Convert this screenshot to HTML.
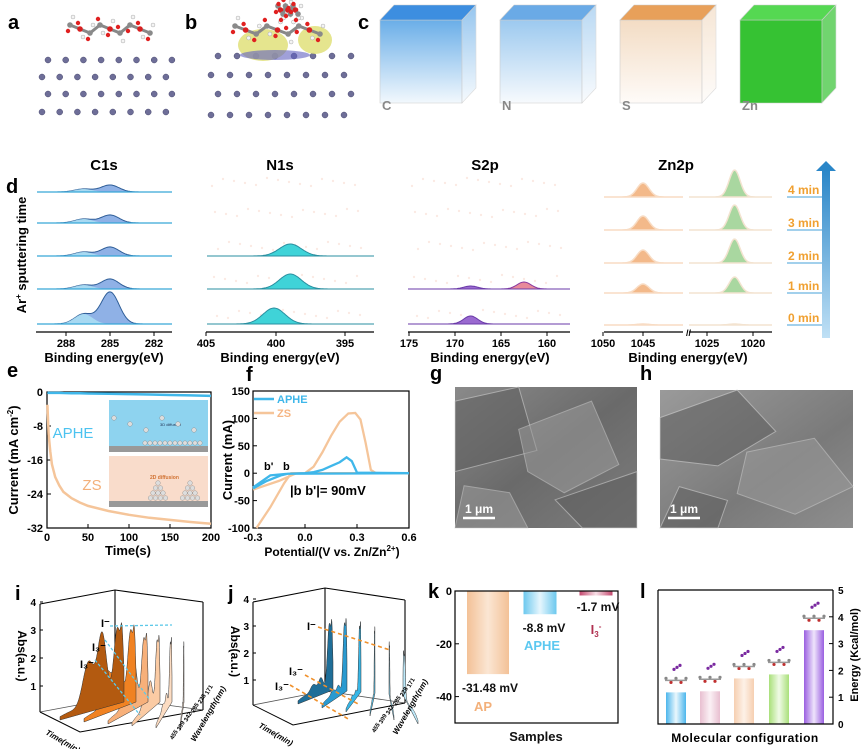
<!DOCTYPE html>
<html><head><meta charset="utf-8">
<style>
body{margin:0;background:#fff;}
svg{display:block;font-family:"Liberation Sans",Arial,sans-serif;font-weight:bold;}
</style></head>
<body>
<svg id="fig" width="863" height="749" viewBox="0 0 863 749" xmlns="http://www.w3.org/2000/svg">
<defs>
<linearGradient id="gBlue" x1="0" x2="1"><stop offset="0" stop-color="#6cc8ee"/><stop offset="0.5" stop-color="#e6f6fd"/><stop offset="1" stop-color="#6cc8ee"/></linearGradient>
<linearGradient id="gOr" x1="0" x2="1"><stop offset="0" stop-color="#f3c197"/><stop offset="0.5" stop-color="#fbe6d3"/><stop offset="1" stop-color="#f3c197"/></linearGradient>
<linearGradient id="gRed" x1="0" x2="1"><stop offset="0" stop-color="#c4486e"/><stop offset="0.5" stop-color="#f7e0e7"/><stop offset="1" stop-color="#c4486e"/></linearGradient>
<linearGradient id="gL0" x1="0" x2="1"><stop offset="0" stop-color="#4cb6ec"/><stop offset="0.5" stop-color="#eaf7fd"/><stop offset="1" stop-color="#4cb6ec"/></linearGradient>
<linearGradient id="gL1" x1="0" x2="1"><stop offset="0" stop-color="#e8bfd0"/><stop offset="0.5" stop-color="#fbf1f5"/><stop offset="1" stop-color="#e8bfd0"/></linearGradient>
<linearGradient id="gL2" x1="0" x2="1"><stop offset="0" stop-color="#f6cfb1"/><stop offset="0.5" stop-color="#fdf1e7"/><stop offset="1" stop-color="#f6cfb1"/></linearGradient>
<linearGradient id="gL3" x1="0" x2="1"><stop offset="0" stop-color="#a9e07a"/><stop offset="0.5" stop-color="#f0fae6"/><stop offset="1" stop-color="#a9e07a"/></linearGradient>
<linearGradient id="gL4" x1="0" x2="1"><stop offset="0" stop-color="#9a5fe0"/><stop offset="0.5" stop-color="#eee4fb"/><stop offset="1" stop-color="#9a5fe0"/></linearGradient>
<linearGradient id="gArrow" x1="0" y1="1" x2="0" y2="0"><stop offset="0" stop-color="#bfe0f5"/><stop offset="1" stop-color="#2a86c8"/></linearGradient>
<linearGradient id="cubeC" x1="0" y1="0" x2="0" y2="1"><stop offset="0" stop-color="#6aaee8"/><stop offset="1" stop-color="#f2f8fd"/></linearGradient>
<linearGradient id="cubeN" x1="0" y1="0" x2="0" y2="1"><stop offset="0" stop-color="#9cc9ef"/><stop offset="1" stop-color="#f7fafd"/></linearGradient>
<linearGradient id="cubeS" x1="0" y1="0" x2="0" y2="1"><stop offset="0" stop-color="#f3dcc4"/><stop offset="1" stop-color="#fefbf8"/></linearGradient>
<linearGradient id="semG" x1="0" y1="0" x2="1" y2="1"><stop offset="0" stop-color="#8a8a8a"/><stop offset="0.5" stop-color="#6a6a6a"/><stop offset="1" stop-color="#7d7d7d"/></linearGradient>
<linearGradient id="semH" x1="0" y1="0" x2="1" y2="1"><stop offset="0" stop-color="#9a9a9a"/><stop offset="0.6" stop-color="#7a7a7a"/><stop offset="1" stop-color="#8e8e8e"/></linearGradient>
</defs>

<g font-size="20" fill="#000">
<text x="8" y="29">a</text>
<text x="185" y="29">b</text>
<text x="358" y="29">c</text>
<text x="6" y="193">d</text>
<text x="7" y="377">e</text>
<text x="246" y="381">f</text>
<text x="430" y="380">g</text>
<text x="640" y="380">h</text>
<text x="15" y="600">i</text>
<text x="228" y="600">j</text>
<text x="428" y="598">k</text>
<text x="640" y="598">l</text>
</g>

<g id="panelAB"></g>
<g id="panelC"></g>
<g id="panelD"></g>
<g id="panelE"></g>
<g id="panelF"></g>
<g id="panelGH"></g>
<g id="panelI"></g>
<g id="panelJ"></g>
<g id="panelK"></g>
<g id="panelL"></g>
</svg>

<script>
// ---------- DATA ----------
const eTime = [0.5,2,4,6,10,15,20,30,40,50,75,100,125,150,175,200];
const eZS   = [-3,-10,-14,-17,-20,-22,-23.5,-25,-26,-26.8,-28,-28.9,-29.6,-30.1,-30.6,-31];
const eAPHE = [-0.1,-0.2,-0.2,-0.2,-0.2,-0.2,-0.25,-0.3,-0.3,-0.35,-0.4,-0.5,-0.6,-0.7,-0.8,-0.9];
const eYTicks = [0,-8,-16,-24,-32];
const eXTicks = [0,50,100,150,200];
const fZSV = [-0.28,-0.2,-0.12,-0.08,0.0,0.05,0.1,0.15,0.2,0.25,0.29,0.32,0.35,0.38,0.41,0.6,0.6,-0.05,-0.15,-0.3];
const fZSI = [-100,-62,-18,0,0,12,38,68,94,109,110,98,55,6,0,0,0,0,-14,-30];
const fAPV = [-0.3,-0.22,-0.14,-0.1,0.0,0.05,0.1,0.15,0.2,0.24,0.27,0.3,0.6,0.6,-0.1,-0.2,-0.3];
const fAPI = [-28,-14,-4,-1,0,2,6,13,20,29,22,1,0,0,-1,-4,-26];
const fYTicks = [150,100,50,0,-50,-100];
const fXTicks = [-0.3,0.0,0.3,0.6];
const kSamples = ["AP","APHE","I3-"];
const kValues = [-31.48,-8.8,-1.7];
const kYTicks = [0,-20,-40];
const lConfigs = ["c1","c2","c3","c4","c5"];
const lEnergy = [1.18,1.22,1.7,1.85,3.5];
const lYTicks = [0,1,2,3,4,5];
const dC1sMain = [7,8,9,10,32];
const dC1sShoulder = [3,4,4,4,10];
const dN1s = [0,0,12,15,16];
const dS2pA = [0,0,0,3,8];
const dS2pB = [0,0,0,7,0];
const dZnA = [14,14,13,9,1];
const dZnB = [27,25,24,16,1];
const dRowLabels = ["4 min","3 min","2 min","1 min","0 min"];
const iIpeak = [3.9,3.8,3.4,3.3,3.2,3.0];
const iI3a = [1.7,1.4,0.9,0.6,0.35,0.15];
const iI3b = [2.6,2.2,1.6,1.0,0.6,0.3];
const jIpeak = [3.6,3.7,3.6,3.4,2.7,2.3];
const jI3a = [0.4,0.3,0.2,0.15,0.1,0.05];
const jI3b = [0.6,0.4,0.3,0.2,0.1,0.05];

const NS="http://www.w3.org/2000/svg";
function mk(parent,tag,attrs,text){const e=document.createElementNS(NS,tag);for(const k in attrs)e.setAttribute(k,attrs[k]);if(text!==undefined)e.textContent=text;parent.appendChild(e);return e;}
function g(x,m,s){return Math.exp(-0.5*((x-m)/s)*((x-m)/s));}

// ---------- A / B ----------
(function(){
 const P=document.getElementById('panelAB');
 // a substrate
 const aRows=[60,77,94,112];
 aRows.forEach((y,r)=>{for(let c=0;c<8;c++){
   const a=mk(P,'circle',{cx:(r%2?42:48)+c*17.7,cy:y,r:3,fill:'#6e6e98',stroke:'#4a4a70','stroke-width':0.5});
   
   
 }});
 const bRows=[56,75,94,115];
 bRows.forEach((y,r)=>{for(let c=0;c<8;c++){
   const a=mk(P,'circle',{cx:(r%2?211:218)+c*19,cy:y,r:3,fill:'#6e6e98',stroke:'#4a4a70','stroke-width':0.5});
   
   
 }});
 // charge density blobs b
 const bl=mk(P,'ellipse',{cx:263,cy:45,rx:25,ry:16,fill:'#e0e07a',opacity:0.85});
 
 mk(P,'ellipse',{cx:315,cy:40,rx:17,ry:14,fill:'#e0e07a',opacity:0.85});
 mk(P,'ellipse',{cx:275,cy:55,rx:35,ry:5,fill:'#6060c0',opacity:0.6});
 // molecules
 function mol(x0,y0,w){
  const pts=[];for(let k=0;k<9;k++)pts.push([x0+k*w/8,y0+((k%3)-1)*4]);
  mk(P,'polyline',{points:pts.map(p=>p.join(',')).join(' '),fill:'none',stroke:'#888',"stroke-width":3});
  pts.forEach((p,i)=>{mk(P,'circle',{cx:p[0],cy:p[1],r:2.8,fill:i%3==1?'#d82020':'#8a8a8a'});mk(P,'circle',{cx:p[0]+3,cy:p[1]+(i%2?8:-8),r:2,fill:'#f4f4f4',stroke:'#aaa','stroke-width':0.5});mk(P,'circle',{cx:p[0]-2,cy:p[1]+(i%2?-6:6),r:2.2,fill:'#e02020'});});
 }
 mol(70,29,80);
 mol(235,30,85);
 mol(278,10,20);
})();

// ---------- C ----------
(function(){
 const P=document.getElementById('panelC');
 const cubes=[[380,'url(#cubeC)','#3d8ee0','C'],[500,'url(#cubeN)','#6aaae6','N'],[620,'url(#cubeS)','#e8a05a','S'],[740,'#36c233','#55d852','Zn']];
 cubes.forEach(([x,fill,top,lab])=>{
  const c=mk(P,'g',{});
  
  
  mk(c,'polygon',{points:`${x},20 ${x+82},20 ${x+82},103 ${x},103`,fill:fill,stroke:'#ccc','stroke-width':0.6});
  mk(c,'polygon',{points:`${x},20 ${x+14},5 ${x+96},5 ${x+82},20`,fill:top,stroke:'#ccc','stroke-width':0.6});
  mk(c,'polygon',{points:`${x+82},20 ${x+96},5 ${x+96},88 ${x+82},103`,fill:fill,opacity:0.7,stroke:'#ccc','stroke-width':0.6});
  const t=mk(P,'text',{x:x+2,y:110,'font-size':13,fill:'#888'},lab);
  
  
 });
})();

// ---------- D ----------
(function(){
 const P=document.getElementById('panelD');
 const rowsC=[192,223,256,289,324], rowsZ=[197,230,263,293,325];
 function peakPath(x0,x1,base,fn){let d=`M${x0},${base}`;for(let x=x0;x<=x1;x+=1){d+=` L${x},${(base-fn(x)).toFixed(1)}`;}d+=` L${x1},${base} Z`;return d;}
 function lineP(x0,x1,base,fn){let d='';for(let x=x0;x<=x1;x+=1){d+=(d?' L':'M')+`${x},${(base-fn(x)).toFixed(1)}`;}return d;}
 function axis(x0,x1,ticks,title,tx){
  mk(P,'line',{x1:x0,y1:332,x2:x1,y2:332,stroke:'#000','stroke-width':1.3});
  ticks.forEach(([x,l])=>{mk(P,'line',{x1:x,y1:332,x2:x,y2:336,stroke:'#000'});mk(P,'text',{x:x,y:347,'font-size':11,'text-anchor':'middle'},l);});
  const t=mk(P,'text',{x:tx,y:362,'font-size':13,'text-anchor':'middle'},'Binding energy(eV)');
  
 }
 [['C1s',104],['N1s',280],['S2p',485],['Zn2p',676]].forEach(([s,x])=>{const t=mk(P,'text',{x:x,y:170,'font-size':15,'text-anchor':'middle'},s);});
 const yl=mk(P,'text',{x:0,y:0,'font-size':13,'text-anchor':'middle',transform:'translate(26,255) rotate(-90)'});
 
 yl.innerHTML='Ar<tspan dy="-5" font-size="8">+</tspan><tspan dy="5"> sputtering time</tspan>';
 const xc=e=>66+(288-e)*14.67;
 rowsC.forEach((b,i)=>{
  const fm=x=>dC1sMain[i]*g(x,xc(285),9);
  const fs=x=>dC1sShoulder[i]*g(x,xc(286.8),9);
  const p=mk(P,'path',{d:peakPath(37,172,b,x=>fm(x)+fs(x)),fill:'#8fb1e6',stroke:'#2f5e98','stroke-width':1});
  
  mk(P,'path',{d:peakPath(37,172,b,fs),fill:'#aee3f5',opacity:0.8});
  mk(P,'path',{d:lineP(37,172,b,x=>0),stroke:'#37a7d8',fill:'none','stroke-width':1.2});
 });
 axis(36,172,[[66,288],[110,285],[154,282]],'',104);
 const xn=e=>206+(405-e)*13.6;
 rowsC.forEach((b,i)=>{
  for(let k=0;k<14;k++){mk(P,'circle',{cx:212+k*11+(i*3)%7,cy:b-6-(k*7+i*5)%9,r:1.2,fill:'#fbeae4'});}
  if(!dN1s[i])return;
  const c=i==4?400:398.8;
  const p=mk(P,'path',{d:peakPath(207,374,b,x=>dN1s[i]*g(x,xn(c),11)),fill:'#3fd3d8',stroke:'#2a8fa0','stroke-width':1});
  
 });
 axis(206,374,[[206,405],[276,400],[345,395]],'',280);
 const xs=e=>455+(170-e)*9.2;
 rowsC.forEach((b,i)=>{
  for(let k=0;k<14;k++){mk(P,'circle',{cx:412+k*11+(i*3)%7,cy:b-6-(k*7+i*5)%9,r:1.2,fill:'#fbeae4'});}
  if(!(dS2pA[i]||dS2pB[i]))return;
  mk(P,'path',{d:peakPath(408,570,b,x=>dS2pB[i]*g(x,xs(162.5),7)),fill:'#e88a9a',stroke:'#8a3aa0','stroke-width':1});
  const p=mk(P,'path',{d:peakPath(408,570,b,x=>dS2pA[i]*g(x,xs(168.3),7)),fill:'#9a6ad0',stroke:'#6a3aa8','stroke-width':1});
  
 });
 axis(408,570,[[409,175],[455,170],[501,165],[547,160]],'',490);
 const xzL=e=>603+(1050-e)*8, xzR=e=>707+(1025-e)*9.2;
 rowsZ.forEach((b,i)=>{
  const p1=mk(P,'path',{d:peakPath(604,683,b,x=>dZnA[i]*g(x,xzL(1045),6)),fill:'#f3b98a',stroke:'#f8dcc4','stroke-width':1.5});
  
  const p2=mk(P,'path',{d:peakPath(689,772,b,x=>dZnB[i]*g(x,xzR(1022),5.5)),fill:'#a9d7a0',stroke:'#f3e3d0','stroke-width':1.5});
  
 });
 mk(P,'line',{x1:604,y1:332,x2:683,y2:332,stroke:'#000','stroke-width':1.3});
 mk(P,'line',{x1:689,y1:332,x2:772,y2:332,stroke:'#000','stroke-width':1.3});
 mk(P,'text',{x:686,y:336,'font-size':9},'//');
 [[603,1050],[643,1045],[707,1025],[753,1020]].forEach(([x,l])=>{mk(P,'line',{x1:x,y1:332,x2:x,y2:336,stroke:'#000'});mk(P,'text',{x:x,y:347,'font-size':11,'text-anchor':'middle'},l);});
 const zt=mk(P,'text',{x:688,y:362,'font-size':13,'text-anchor':'middle'},'Binding energy(eV)');
 
 rowsZ.forEach((b,i)=>{
  const t=mk(P,'text',{x:788,y:b-3,'font-size':12,fill:'#f0a030'},dRowLabels[i]);
  
  mk(P,'line',{x1:787,y1:b,x2:822,y2:b,stroke:'#6ab4e0','stroke-width':1.2});
 });
 const ar=mk(P,'polygon',{points:'822,170 830,170 830,338 822,338',fill:'url(#gArrow)'});
 
 mk(P,'polygon',{points:'816,171 826,161 836,171',fill:'#2a86c8'});
})();

// ---------- E ----------
(function(){
 const P=document.getElementById('panelE');
 const X=t=>47+t/200*164, Y=v=>392+(-v)/32*136;
 mk(P,'rect',{x:47,y:392,width:164,height:136,fill:'none',stroke:'#000','stroke-width':1.2});
 eYTicks.forEach(v=>{mk(P,'line',{x1:47,y1:Y(v),x2:51,y2:Y(v),stroke:'#000'});mk(P,'text',{x:43,y:Y(v)+4,'font-size':11,'text-anchor':'end'},v);});
 eXTicks.forEach(v=>{mk(P,'line',{x1:X(v),y1:528,x2:X(v),y2:524,stroke:'#000'});mk(P,'text',{x:X(v),y:541,'font-size':11,'text-anchor':'middle'},v);});
 const xt=mk(P,'text',{x:128,y:555,'font-size':13,'text-anchor':'middle'},'Time(s)');
 const yt=mk(P,'text',{x:0,y:0,'font-size':13,'text-anchor':'middle',transform:'translate(18,460) rotate(-90)'});
 yt.innerHTML='Current (mA cm<tspan dy="-5" font-size="8">-2</tspan><tspan dy="5">)</tspan>';
 
 const i1=mk(P,'rect',{x:109,y:400,width:99,height:52,fill:'#8ed3ef'});
 mk(P,'rect',{x:109,y:446,width:99,height:6,fill:'#999'});
 mk(P,'text',{x:160,y:426,'font-size':4,'font-weight':'normal',fill:'#235'},'3D diffusion');
 const i2=mk(P,'rect',{x:109,y:456,width:99,height:51,fill:'#f9dccb'});
 mk(P,'rect',{x:109,y:501,width:99,height:6,fill:'#999'});
 mk(P,'text',{x:150,y:479,'font-size':5,fill:'#d07030'},'2D diffusion');
 for(let k=0;k<12;k++){mk(P,'circle',{cx:145+k*5,cy:443,r:2.2,fill:'#ddd',stroke:'#888','stroke-width':0.4});}
 for(let k=0;k<6;k++){mk(P,'circle',{cx:114+k*16,cy:418+(k%3)*6,r:2.3,fill:'#ddd',stroke:'#888','stroke-width':0.4});}
 [[158,498],[190,498]].forEach(([cx,cy])=>{for(let r=0;r<4;r++)for(let c=0;c<=r;c++)mk(P,'circle',{cx:cx-r*2.5+c*5,cy:cy-(3-r)*5,r:2.3,fill:'#ddd',stroke:'#888','stroke-width':0.4});});
 const ln=(xs,ys,col,nm)=>{const p=mk(P,'polyline',{points:xs.map((t,i)=>X(t)+','+Y(ys[i])).join(' '),fill:'none',stroke:col,'stroke-width':2.5});};
 ln(eTime,eAPHE,'#3fb7ea','aphe-line');
 ln(eTime,eZS,'#f5c59a','zs-line');
 const a=mk(P,'text',{x:73,y:438,'font-size':15,fill:'#4cc3f0','font-weight':'normal','text-anchor':'middle'},'APHE');
 const z=mk(P,'text',{x:92,y:490,'font-size':15,fill:'#f3b07a','font-weight':'normal','text-anchor':'middle'},'ZS');
})();

// ---------- F ----------
(function(){
 const P=document.getElementById('panelF');
 const X=v=>253+(v+0.3)/0.9*156, Y=c=>391+(150-c)/250*137;
 mk(P,'rect',{x:253,y:391,width:156,height:137,fill:'none',stroke:'#000','stroke-width':1.2});
 fYTicks.forEach(v=>{mk(P,'line',{x1:253,y1:Y(v),x2:257,y2:Y(v),stroke:'#000'});mk(P,'text',{x:250,y:Y(v)+4,'font-size':11,'text-anchor':'end'},v);});
 fXTicks.forEach(v=>{mk(P,'line',{x1:X(v),y1:528,x2:X(v),y2:524,stroke:'#000'});mk(P,'text',{x:X(v),y:541,'font-size':11,'text-anchor':'middle'},v.toFixed(1));});
 const xt=mk(P,'text',{x:332,y:556,'font-size':12,'text-anchor':'middle'});
 xt.innerHTML='Potential/(V vs. Zn/Zn<tspan dy="-5" font-size="8">2+</tspan><tspan dy="5">)</tspan>';
 
 const yt=mk(P,'text',{x:0,y:0,'font-size':13,'text-anchor':'middle',transform:'translate(232,460) rotate(-90)'},'Current (mA)');
 
 const ln=(xs,ys,col,nm)=>{const p=mk(P,'polyline',{points:xs.map((t,i)=>X(t)+','+Math.min(528,Y(ys[i]))).join(' '),fill:'none',stroke:col,'stroke-width':2.3});};
 ln(fZSV,fZSI,'#f5c59a','zs-cv-curve');
 ln(fAPV,fAPI,'#3fb7ea','aphe-cv-curve');
 mk(P,'line',{x1:254,y1:399,x2:274,y2:399,stroke:'#3fb7ea','stroke-width':2.5});
 const l1=mk(P,'text',{x:277,y:403,'font-size':11,fill:'#3fb7ea'},'APHE');
 mk(P,'line',{x1:254,y1:413,x2:274,y2:413,stroke:'#f5c59a','stroke-width':2.5});
 const l2=mk(P,'text',{x:277,y:417,'font-size':11,fill:'#f5b583'},'ZS');
 mk(P,'text',{x:264,y:470,'font-size':11},"b'");
 mk(P,'text',{x:283,y:470,'font-size':11},'b');
 const an=mk(P,'text',{x:290,y:495,'font-size':13},"|b b'|= 90mV");
})();

// ---------- G / H ----------
(function(){
 const P=document.getElementById('panelGH');
 [[455,387,182,141,'url(#semG)','g'],[660,390,193,138,'url(#semH)','h']].forEach(([x,y,w,h,f,n])=>{
  const r=mk(P,'rect',{x:x,y:y,width:w,height:h,fill:f});
  
  const shapes=n=='g'?[[0,0.1,0.35,0,0.45,0.45,0,0.6],[0.35,0.3,0.75,0.1,0.9,0.55,0.6,0.75,0.4,0.6],[0.55,0.8,1,0.6,1,1,0.7,1],[0.05,0.7,0.3,0.75,0.4,1,0,1]]:[[0,0.2,0.4,0,0.6,0.3,0.3,0.55,0,0.5],[0.45,0.45,0.8,0.35,1,0.7,0.7,0.9,0.4,0.75],[0.1,0.7,0.35,0.8,0.3,1,0,1]];
  shapes.forEach((s,k)=>{let pts=[];for(let i=0;i<s.length;i+=2)pts.push((x+s[i]*w)+','+(y+s[i+1]*h));mk(P,'polygon',{points:pts.join(' '),fill:k%2?'#9a9a9a':'#5e5e5e',opacity:0.55,stroke:'#cfcfcf','stroke-width':1});});
  mk(P,'line',{x1:x+8,y1:y+h-10,x2:x+40,y2:y+h-10,stroke:'#fff','stroke-width':2.5});
  const t=mk(P,'text',{x:x+10,y:y+h-15,'font-size':12,fill:'#fff'},'1 μm');
  
 });
})();

// ---------- I / J waterfall ----------
function waterfall(P,cfg,Ipk,A,B){
 const {L,Bk,R,top,bot,sx,sy,ex,ey,dx,dy,edx,edy,cols,unit,tickLabels}=cfg;
 mk(P,'polyline',{points:`${L},${top+14} ${Bk},${top} ${R},${top+12}`,fill:'none',stroke:'#000','stroke-width':1.1});
 mk(P,'line',{x1:L,y1:top+14,x2:L,y2:bot,stroke:'#000','stroke-width':1.1});
 mk(P,'line',{x1:Bk,y1:top,x2:Bk,y2:bot-14,stroke:'#000','stroke-width':1.1});
 mk(P,'line',{x1:R,y1:top+12,x2:R,y2:bot-2,stroke:'#000','stroke-width':1.1});
 mk(P,'polyline',{points:`${L},${bot} ${Bk},${bot-14} ${R},${bot-2}`,fill:'none',stroke:'#555','stroke-width':0.8});
 mk(P,'polyline',{points:`${L},${bot} ${L+40},${bot+20} ${R},${bot-2}`,fill:'none',stroke:'#000','stroke-width':1});
 [1,2,3,4].forEach(v=>{const y=bot-v*unit+2;mk(P,'text',{x:L-4,y:y+4,'font-size':10,'text-anchor':'end'},v);mk(P,'line',{x1:L,y1:y,x2:L+3,y2:y,stroke:'#000'});});
 for(let k=Ipk.length-1;k>=0;k--){
  const x0=sx+k*dx,y0=sy+k*dy,x1=ex+k*edx,y1=ey+k*edy;
  let d=`M${x0},${y0}`;
  for(let s=0;s<=100;s++){const t=s/100;const amp=(0.2*g(t,0.2,0.2)+A[k]*g(t,0.45,0.09)+B[k]*g(t,0.66,0.07)+Ipk[k]*0.7*g(t,0.9,0.06)+Ipk[k]*0.35*g(t,0.97,0.02))*unit;d+=` L${(x0+(x1-x0)*t).toFixed(1)},${(y0+(y1-y0)*t-amp).toFixed(1)}`;}
  d+=` L${x1},${y1} Z`;
  const p=mk(P,'path',{d:d,fill:cols[k],stroke:'#333','stroke-width':0.5});
  
 }
 const yt=mk(P,'text',{x:0,y:0,'font-size':12,'text-anchor':'middle',transform:`translate(${L-22},${(top+bot)/2+5}) rotate(90)`},'Abs(a.u.)');
 
 tickLabels.forEach((s,k)=>{mk(P,'text',{x:R-30+k*7,y:bot+28-k*9,'font-size':6,transform:`rotate(-60 ${R-30+k*7} ${bot+28-k*9})`},s);});
 mk(P,'text',{x:L+5,y:bot+22,'font-size':8,transform:`rotate(30 ${L+5} ${bot+22})`,'font-style':'italic'},'Time(min)');
 mk(P,'text',{x:R-8,y:bot+30,'font-size':8,transform:`rotate(-60 ${R-8} ${bot+30})`,'font-style':'italic'},'Wavelength(nm)');
}
(function(){
 const P=document.getElementById('panelI');
 waterfall(P,{L:40,Bk:115,R:203,top:590,bot:712,sx:60,sy:720,ex:124,ey:702,dx:24,dy:2,edx:12,edy:0,cols:['#b35a10','#f08222','#f7b07a','#fbcba4','#fcdcc2','#fbe6d6'],unit:28,tickLabels:['455','399','342','285','228','171']},iIpeak,iI3a,iI3b);
 mk(P,'text',{x:101,y:627,'font-size':11},'I⁻');mk(P,'text',{x:92,y:651,'font-size':11},'I₃⁻');mk(P,'text',{x:80,y:668,'font-size':11},'I₃⁻');
 [[110,626,172,625],[105,640,150,700],[95,660,140,715]].forEach(a=>mk(P,'line',{x1:a[0],y1:a[1],x2:a[2],y2:a[3],stroke:'#5cc8e8','stroke-dasharray':'3,2','stroke-width':1.3}));
})();
(function(){
 const P=document.getElementById('panelJ');
 waterfall(P,{L:253,Bk:325,R:405,top:588,bot:705,sx:298,sy:704,ex:333,ey:690,dx:24,dy:4,edx:14,edy:1,cols:['#1f6e98','#2a9ad0','#37b6e6','#5cc8ef','#8fd8f3','#bde8f8'],unit:27,tickLabels:['455','399','342','285','228','171']},jIpeak,jI3a,jI3b);
 mk(P,'text',{x:307,y:630,'font-size':11},'I⁻');mk(P,'text',{x:289,y:675,'font-size':11},'I₃⁻');mk(P,'text',{x:275,y:690,'font-size':11},'I₃⁻');
 [[318,627,390,650],[305,675,360,705],[290,685,350,720]].forEach(a=>mk(P,'line',{x1:a[0],y1:a[1],x2:a[2],y2:a[3],stroke:'#f0902a','stroke-dasharray':'4,3','stroke-width':1.6}));
})();

// ---------- K ----------
(function(){
 const P=document.getElementById('panelK');
 const Y=v=>591+(-v)/50*132;
 const cx=[488,540,596], w=[42,33,33], fills=['url(#gOr)','url(#gBlue)','url(#gRed)'];
 kValues.forEach((v,i)=>{const r=mk(P,'rect',{x:cx[i]-w[i]/2,y:Y(0),width:w[i],height:Y(v)-Y(0),fill:fills[i]});
  });
 mk(P,'rect',{x:455,y:591,width:163,height:132,fill:'none',stroke:'#000','stroke-width':1.2});
 kYTicks.forEach(v=>{mk(P,'line',{x1:455,y1:Y(v),x2:459,y2:Y(v),stroke:'#000'});mk(P,'text',{x:452,y:Y(v)+4,'font-size':11,'text-anchor':'end'},v);});
 const lab=(x,y,s,c,fs,nm)=>{const t=mk(P,'text',{x:x,y:y,'font-size':fs,fill:c,'text-anchor':'middle'},s);return t;};
 lab(490,692,kValues[0]+' mV','#111',12,'value-ap');
 lab(483,711,'AP','#f3b07a',13,'label-ap');
 lab(544,632,kValues[1]+' mV','#111',12,'value-aphe');
 lab(542,650,'APHE','#5cc8f0',13,'label-aphe');
 lab(598,611,kValues[2]+' mV','#111',12,'value-i3');
 const t=lab(596,634,'','#b03050',13,'label-i3');t.innerHTML='I<tspan dy="3" font-size="8">3</tspan><tspan dy="-8" font-size="8">-</tspan>';
 lab(536,741,'Samples','#111',13,'x-axis-title');
})();

// ---------- L ----------
(function(){
 const P=document.getElementById('panelL');
 const Y=v=>724-v/5*134;
 const cx=[676,710,744,779,814];
 lEnergy.forEach((v,i)=>{const r=mk(P,'rect',{x:cx[i]-10,y:Y(v),width:20,height:Y(0)-Y(v),fill:`url(#gL${i})`});
  
  const my=Y(v)-14;
  for(let k=0;k<5;k++){mk(P,'circle',{cx:cx[i]-10+k*5,cy:my+(k%2)*4,r:1.6,fill:k%2?'#c03030':'#888'});}
  mk(P,'line',{x1:cx[i]-11,y1:my+2,x2:cx[i]+11,y2:my+2,stroke:'#999','stroke-width':1.5});
  for(let k=0;k<3;k++){mk(P,'circle',{cx:cx[i]+k*3-2,cy:my-9-k*2,r:1.6,fill:'#7a2aa0'});}
 });
 mk(P,'polyline',{points:'658,590 658,724 833,724 833,590',fill:'none',stroke:'#000','stroke-width':1.2});
 mk(P,'line',{x1:658,y1:590,x2:833,y2:590,stroke:'#000','stroke-width':1.2});
 lYTicks.forEach(v=>{mk(P,'line',{x1:833,y1:Y(v),x2:829,y2:Y(v),stroke:'#000'});mk(P,'text',{x:838,y:Y(v)+4,'font-size':10},v);});
 const xt=mk(P,'text',{x:745,y:742,'font-size':12,'text-anchor':'middle','letter-spacing':'0.5'},'Molecular configuration');
 
 const yt=mk(P,'text',{x:0,y:0,'font-size':11,'text-anchor':'middle',transform:'translate(858,655) rotate(-90)'},'Energy (Kcal/mol)');
 
})();
</script>
</body></html>
